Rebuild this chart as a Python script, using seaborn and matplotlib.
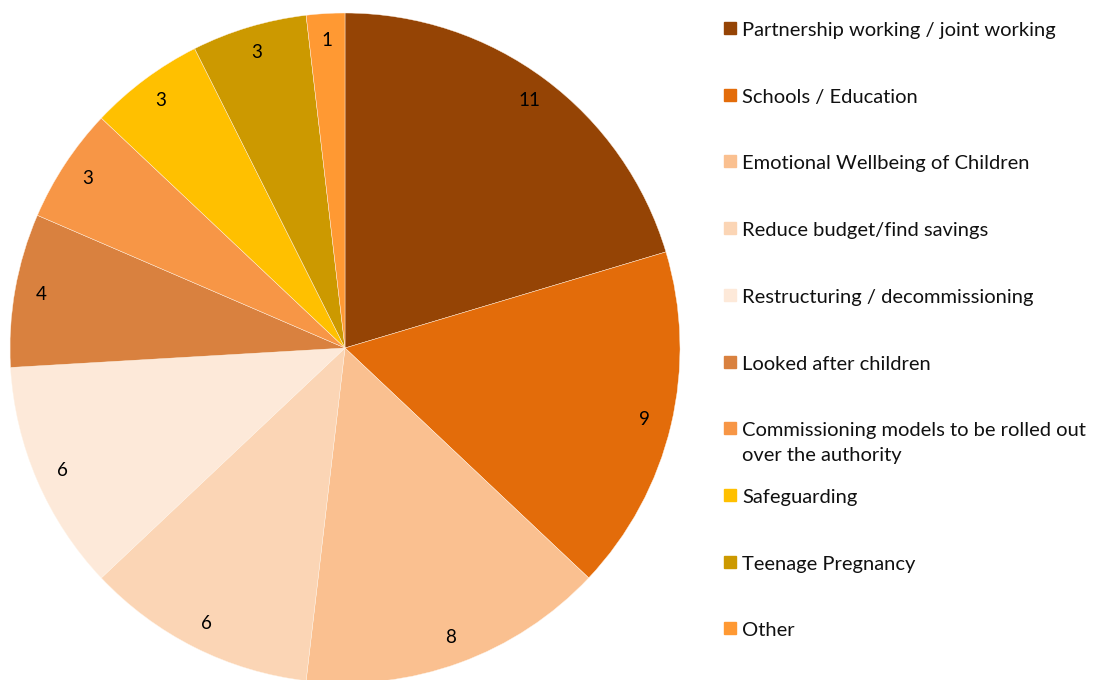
import numpy as np
import seaborn as sns
from matplotlib import pyplot as plt
from matplotlib.patches import Rectangle

sns.set_theme(style="white")
plt.rcParams['font.family'] = ['Lato', 'DejaVu Sans']

categories = ['Partnership working / joint working',
              'Schools / Education',
              'Emotional Wellbeing of Children',
              'Reduce budget/find savings',
              'Restructuring / decommissioning',
              'Looked after children',
              'Commissioning models to be rolled out\nover the authority',
              'Safeguarding',
              'Teenage Pregnancy',
              'Other']
counts = [11, 9, 8, 6, 6, 4, 3, 3, 3, 1]
colors = ['#954405', '#E36C0A', '#FAC090', '#FBD5B5', '#FDE9D9',
          '#D9813F', '#F79646', '#FFC000', '#CC9900', '#FF9933']

W, H = 1099, 680
fig = plt.figure(figsize=(W / 100, H / 100), dpi=100)

cx, cy, r = 345, 348, 335
ax = fig.add_axes([(cx - r) / W, (H - cy - r) / H, 2 * r / W, 2 * r / H])
wedges, texts, autotexts = ax.pie(
    counts, colors=colors, startangle=90, counterclock=False,
    radius=1.0, pctdistance=0.92,
    autopct=lambda p: '%d' % round(p * sum(counts) / 100),
    wedgeprops=dict(edgecolor='#fff3e6', linewidth=0.3),
    textprops=dict(fontsize=13.5, color='black'))
ax.set_xlim(-1, 1)
ax.set_ylim(-1, 1)
ax.set_aspect('equal')
ax.axis('off')

# legend drawn by hand to keep Excel-like spacing
y0, step = 28, 66.7
for i, (lab, col) in enumerate(zip(categories, colors)):
    y = y0 + i * step
    fig.patches.append(Rectangle((724 / W, 1 - (y + 6) / H), 12 / W, 12 / H,
                                 transform=fig.transFigure, color=col))
    fig.text(742 / W, 1 - (y - 6) / H, lab, fontsize=14.5, va='top', ha='left',
             color='#111111', linespacing=1.55)

fig.savefig('out.png', dpi=100)
